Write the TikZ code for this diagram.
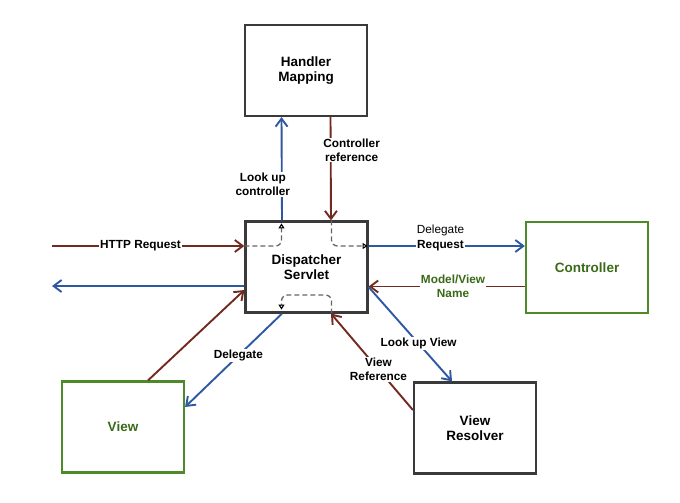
\documentclass[tikz,border=0pt]{standalone}
\usepackage{fontspec}
\setmainfont{Liberation Sans}
\usetikzlibrary{arrows.meta}
\definecolor{darrow}{HTML}{72291F}
\definecolor{barrow}{HTML}{2F58A2}
\definecolor{gborder}{HTML}{4E8A2A}
\definecolor{gtext}{HTML}{3A6A18}
\definecolor{kborder}{HTML}{3A3A3A}
\begin{document}
\begin{tikzpicture}[x=1pt, y=-1pt,
	box/.style={draw=kborder, line width=2.2pt, minimum width=122pt, minimum height=91pt, align=center, font=\fontsize{13.5}{15}\selectfont\bfseries},
	gbox/.style={box, draw=gborder, text=gtext},
	lbl/.style={fill=white, inner sep=1pt, align=center, font=\fontsize{11.8}{14}\selectfont\bfseries},
	flow/.style={line width=1.9pt, -{Straight Barb[length=8pt, width=12pt, line width=1.9pt]}},
	red/.style={flow, draw=darrow},
	blue/.style={flow, draw=barrow},
	inner/.style={draw=gray!80!black, line width=1.3pt, dash pattern=on 5pt off 3pt, rounded corners=6pt, -{Triangle[open, length=5pt, width=6pt, line width=1.1pt, color=black]}}]
	\useasboundingbox (0,0) rectangle (680,503);
	% boxes
	\node[box] (hm) at (306,70.5) {Handler\\Mapping};
	\node[box] (disp) at (306.5,267) {Dispatcher\\Servlet};
	\node[gbox] (ctrl) at (587,267.5) {Controller};
	\node[gbox] (view) at (123,427) {View};
	\node[box] (vr) at (475,428) {View\\Resolver};
	\coordinate (cin) at (52,246);
	\coordinate (cout) at (52,286);
	% inside the servlet
	\draw[inner] ([yshift=21pt]disp.west) -- ([xshift=-25pt,yshift=21pt]disp.center) -- ([xshift=-25pt,yshift=-3pt]disp.north);
	\draw[inner] ([xshift=25pt]disp.north) -- ([xshift=25pt,yshift=21pt]disp.center) -- ([xshift=-1pt,yshift=21pt]disp.east);
	\draw[inner] ([xshift=25pt]disp.south) -- ([xshift=25pt,yshift=-28pt]disp.center) -- ([xshift=-25pt,yshift=-28pt]disp.center) -- ([xshift=-25pt,yshift=4pt]disp.south);
	% requests and replies
	\draw[blue] ([xshift=-24.5pt]disp.north) -- node[lbl, pos=0.35, xshift=-19pt] {Look up\\controller} ([xshift=-24.5pt]hm.south);
	\draw[red] ([xshift=24.5pt]hm.south) -- node[lbl, pos=0.32, xshift=21pt] {Controller\\reference} ([xshift=24.5pt]disp.north);
	\draw[red] (cin) -- node[lbl, pos=0.46] {HTTP Request} ([yshift=21pt]disp.west);
	\draw[blue] ([yshift=-19pt]disp.west) -- (cout);
	\draw[blue] ([yshift=21pt]disp.east) -- node[lbl, pos=0.46] {Request} node[pos=0.46, above=6pt, font=\fontsize{11.8}{14}\selectfont] {Delegate} ([yshift=21pt]disp.east -| ctrl.west);
	\draw[red] ([yshift=-19pt]ctrl.west) -- node[lbl, pos=0.46, text=gtext] {Model/View\\Name} ([yshift=-19pt]ctrl.west -| disp.east);
	\draw[blue] ([yshift=-20pt]disp.east) -- node[lbl, pos=0.6] {Look up View} ([xshift=-23pt]vr.north);
	\draw[red] ([yshift=18pt]vr.west) -- node[lbl, pos=0.42] {View\\Reference} ([xshift=24.5pt]disp.south);
	\draw[red] ([xshift=25pt]view.north) -- ([yshift=-23pt]disp.west);
	\draw[blue] ([xshift=-24.5pt]disp.south) -- node[lbl, pos=0.45] {Delegate} ([yshift=20pt]view.east);
\end{tikzpicture}
\end{document}
